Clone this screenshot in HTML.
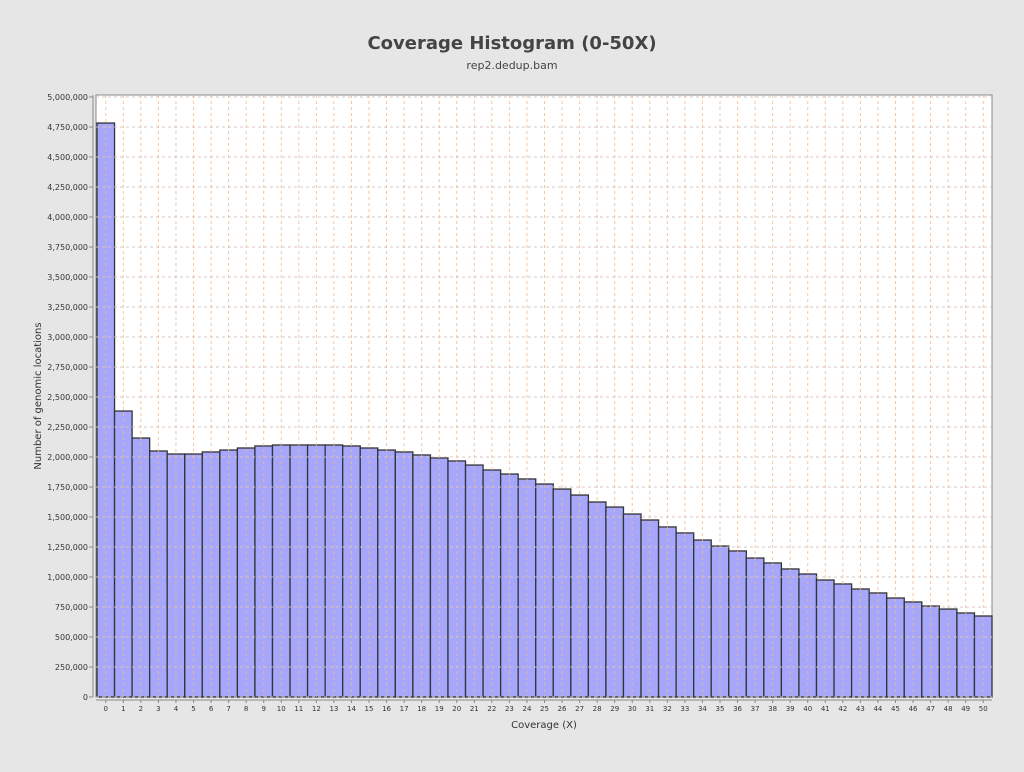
<!DOCTYPE html>
<html><head><meta charset="utf-8"><style>
body{margin:0;background:#e6e6e6;font-family:"DejaVu Sans","Liberation Sans",sans-serif;}
</style></head><body>
<svg id="c" width="1024" height="768" xmlns="http://www.w3.org/2000/svg">
<rect width="1024" height="768" fill="#e6e6e6"/>
<text x="512" y="49" text-anchor="middle" font-size="18" font-weight="bold" fill="#444">Coverage Histogram (0-50X)</text>
<text x="512" y="69" text-anchor="middle" font-size="11" fill="#444">rep2.dedup.bam</text>
<g id="plot"></g>
<text x="544" y="728" text-anchor="middle" font-size="10" fill="#333">Coverage (X)</text>
<text transform="translate(41,396) rotate(-90)" text-anchor="middle" font-size="10" fill="#333">Number of genomic locations</text>
</svg>
<script>
const categories=[];for(let i=0;i<=50;i++)categories.push(String(i));
const values=[4783000,2383000,2158000,2050000,2025000,2025000,2042000,2058000,2075000,2092000,2100000,2100000,2100000,2100000,2092000,2075000,2058000,2042000,2017000,1992000,1967000,1933000,1892000,1858000,1817000,1775000,1733000,1683000,1625000,1583000,1525000,1475000,1417000,1367000,1308000,1258000,1217000,1158000,1117000,1067000,1025000,975000,942000,900000,867000,825000,792000,758000,733000,700000,675000];
const yTicks=[0,250000,500000,750000,1000000,1250000,1500000,1750000,2000000,2250000,2500000,2750000,3000000,3250000,3500000,3750000,4000000,4250000,4500000,4750000,5000000];
const L=96,R=992,T=95,B=697,yMax=5000000;
const bw=(R-1-L)/categories.length;
const xs=i=>L+1+i*bw;
const ys=v=>B-(v/yMax)*(B-97);
const g=document.getElementById('plot');
const NS='http://www.w3.org/2000/svg';
function mk(t,a){const e=document.createElementNS(NS,t);for(const k in a)e.setAttribute(k,a[k]);g.appendChild(e);return e;}
const bg=mk('rect',{x:L,y:T,width:R-L,height:B-T,fill:'#fff',stroke:'#888'});


mk('line',{x1:93,x2:93,y1:T,y2:B,stroke:'#888'});
mk('line',{x1:L,x2:R,y1:B+3,y2:B+3,stroke:'#888'});
categories.forEach((c,i)=>{const x=xs(i),y=ys(values[i]);
 const r=mk('rect',{x:x,y:y,width:bw,height:B-y,fill:'#a6a6fb',stroke:'#333','stroke-width':1.3});
 
 
 mk('line',{x1:x+bw/2,x2:x+bw/2,y1:B+3,y2:B+6,stroke:'#888'});
 const t=mk('text',{x:x+bw/2,y:B+14,'text-anchor':'middle','font-size':7,fill:'#333'});t.textContent=c;
 
 
});
yTicks.forEach(v=>{const y=ys(v);
 const l=mk('line',{x1:L,x2:R,y1:y,y2:y,stroke:'#d4c4bc','stroke-dasharray':'3,3','stroke-width':1,opacity:0.9});
 
 
 mk('line',{x1:89,x2:93,y1:y,y2:y,stroke:'#888'});
 const t=mk('text',{x:88,y:y+3,'text-anchor':'end','font-size':8,fill:'#333'});t.textContent=v.toLocaleString('en-US');
 
 
});
categories.forEach((c,i)=>{const x=xs(i)+bw/2;
 const l=mk('line',{x1:x,x2:x,y1:T,y2:B,stroke:'#f0b888','stroke-dasharray':'3,3',opacity:0.8});
 
 
});
</script>
</body></html>
